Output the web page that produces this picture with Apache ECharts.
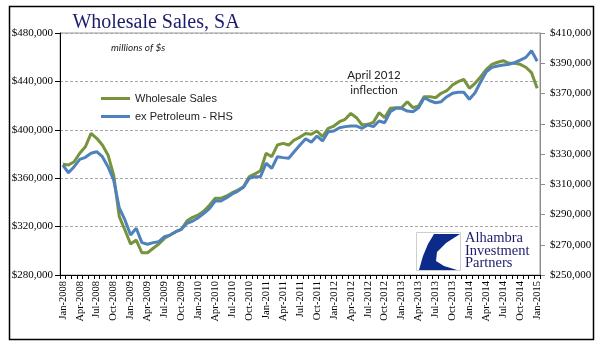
<!DOCTYPE html>
<html>
<head>
<meta charset="utf-8">
<script src="https://cdn.jsdelivr.net/npm/echarts@6/dist/echarts.min.js"></script>
<style>
html,body{margin:0;padding:0;background:#fff;}
#chart{width:596px;height:358px;}
</style>
</head>
<body>
<div id="chart"></div>
<script>
var months = [
"Jan-2008","Feb-2008","Mar-2008","Apr-2008","May-2008","Jun-2008","Jul-2008","Aug-2008","Sep-2008","Oct-2008","Nov-2008","Dec-2008",
"Jan-2009","Feb-2009","Mar-2009","Apr-2009","May-2009","Jun-2009","Jul-2009","Aug-2009","Sep-2009","Oct-2009","Nov-2009","Dec-2009",
"Jan-2010","Feb-2010","Mar-2010","Apr-2010","May-2010","Jun-2010","Jul-2010","Aug-2010","Sep-2010","Oct-2010","Nov-2010","Dec-2010",
"Jan-2011","Feb-2011","Mar-2011","Apr-2011","May-2011","Jun-2011","Jul-2011","Aug-2011","Sep-2011","Oct-2011","Nov-2011","Dec-2011",
"Jan-2012","Feb-2012","Mar-2012","Apr-2012","May-2012","Jun-2012","Jul-2012","Aug-2012","Sep-2012","Oct-2012","Nov-2012","Dec-2012",
"Jan-2013","Feb-2013","Mar-2013","Apr-2013","May-2013","Jun-2013","Jul-2013","Aug-2013","Sep-2013","Oct-2013","Nov-2013","Dec-2013",
"Jan-2014","Feb-2014","Mar-2014","Apr-2014","May-2014","Jun-2014","Jul-2014","Aug-2014","Sep-2014","Oct-2014","Nov-2014","Dec-2014",
"Jan-2015"
];

// Wholesale Sales (left axis), millions of $
var wholesaleSales = [
371500,370900,373600,380600,386000,397100,393000,387400,379200,362600,328200,317200,
305600,308900,298400,298400,302100,305600,310300,313100,315800,317800,324800,327700,
329600,332900,337900,343400,343400,345300,348000,350200,353000,361200,363500,366200,
380600,377800,387400,388800,387400,391600,394000,396900,396300,399000,394300,401200,
403100,406700,408700,413600,410000,404000,404500,406200,414100,410000,417800,418300,
418300,423200,418300,419700,427400,427400,426500,430200,432300,437000,439800,441700,
434300,438400,443900,450000,454100,455800,457100,455000,455000,454100,451700,447200,
434300
];

// ex Petroleum (right axis), millions of $
var exPetroleum = [
322700,317600,321600,326500,327800,330500,331500,328200,321600,312800,294300,286400,
276400,280900,271400,270300,271400,272000,275300,276400,278600,280200,284200,285700,
287900,290800,294100,299100,298900,301100,303600,305500,308000,313900,315000,315000,
323900,320500,328200,327600,327200,331700,336000,340100,337700,341900,338600,344700,
345200,347400,348100,348500,348500,347000,349200,348100,351800,350700,358000,360200,
360200,358400,358000,360500,367200,365200,363900,364600,367900,370100,370800,370800,
366200,370500,377800,384400,387300,388200,388800,389300,390400,392100,393900,398300,
391300
];

var seriesNames = ["Wholesale Sales", "ex Petroleum - RHS"];
var leftTicks = {min: 280000, max: 480000, interval: 40000};
var rightTicks = {min: 250000, max: 410000, interval: 20000};

function money(v){ return '$' + Math.round(v).toString().replace(/\B(?=(\d{3})+(?!\d))/g, ','); }

var chart = echarts.init(document.getElementById('chart'), null, {renderer:'canvas'});
var serif = '"Liberation Serif","Times New Roman",serif';
var option = {
  animation: false,
  backgroundColor: '#ffffff',
  grid: {left: 60, right: 56, top: 33, bottom: 83, show: true, borderColor: '#9a9a9a', borderWidth: 1},
  legend: {
    orient: 'vertical', left: 96, top: 88, itemGap: 7,
    itemWidth: 29, itemHeight: 3, icon: 'rect',
    textStyle: {fontFamily: '"Liberation Sans",Arial,sans-serif', fontSize: 11, color: '#222'},
    data: seriesNames
  },
  xAxis: {
    type: 'category', data: months, boundaryGap: true,
    axisLine: {show: true, lineStyle: {color: '#000', width: 1}},
    axisTick: {show: true, interval: 0, length: 4, inside: false, lineStyle: {color: '#000'}},
    axisLabel: {interval: 2, rotate: 90, margin: 6, fontFamily: serif, fontSize: 10.5, color: '#000'},
    splitLine: {show: false}
  },
  yAxis: [
    {
      type: 'value', min: leftTicks.min, max: leftTicks.max, interval: leftTicks.interval, position: 'left',
      axisLine: {show: true, lineStyle: {color: '#000', width: 1}},
      axisTick: {show: true, length: 5, lineStyle: {color: '#000'}},
      axisLabel: {formatter: money, margin: 7, fontFamily: serif, fontSize: 11, color: '#000'},
      splitLine: {show: true, lineStyle: {color: '#a6a6a6', type: [3, 2], width: 1}}
    },
    {
      type: 'value', min: rightTicks.min, max: rightTicks.max, interval: rightTicks.interval, position: 'right',
      axisLine: {show: true, lineStyle: {color: '#8c8c8c', width: 1}},
      axisTick: {show: true, length: 5, lineStyle: {color: '#8c8c8c'}},
      axisLabel: {formatter: money, margin: 10, fontFamily: serif, fontSize: 11, color: '#000'},
      splitLine: {show: false}
    }
  ],
  series: [
    {name: seriesNames[0], type: 'line', yAxisIndex: 0, data: wholesaleSales, showSymbol: false, symbol: 'none',
     lineStyle: {color: '#77933C', width: 3}, itemStyle: {color: '#77933C'}, z: 2},
    {name: seriesNames[1], type: 'line', yAxisIndex: 1, data: exPetroleum, showSymbol: false, symbol: 'none',
     lineStyle: {color: '#4F81BD', width: 3}, itemStyle: {color: '#4F81BD'}, z: 3}
  ],
  graphic: [
    {type: 'rect', shape: {x: 9.5, y: 6.5, width: 584, height: 333}, style: {fill: 'none', stroke: '#000', lineWidth: 1.5}, z: 100, silent: true},
    {type: 'text', x: 156, y: 23, style: {text: 'Wholesale Sales, SA', fill: '#1c1c6b', font: '20px "Liberation Serif","Times New Roman",serif', textAlign: 'center', textVerticalAlign: 'middle'}, z: 100},
    {type: 'text', x: 111, y: 48, style: {text: 'millions of $s', fill: '#222', font: 'italic 10px Lato,"Open Sans",sans-serif', textAlign: 'left', textVerticalAlign: 'middle'}, z: 100},
    {type: 'text', x: 374, y: 75, style: {text: 'April 2012', fill: '#222', font: '11.5px Lato,"Open Sans",sans-serif', textAlign: 'center', textVerticalAlign: 'middle'}, z: 100},
    {type: 'text', x: 374, y: 90, style: {text: 'inflection', fill: '#222', font: '11.5px Lato,"Open Sans",sans-serif', textAlign: 'center', textVerticalAlign: 'middle'}, z: 100},
    {type: 'rect', shape: {x: 416.5, y: 232.5, width: 44, height: 38}, style: {fill: '#fff', stroke: '#cfcfcf', lineWidth: 1}, z: 100},
    {type: 'polygon', shape: {points: [[434,234],[460,234],[446,243],[437,252],[436,261],[444,266],[457,270],[419,270],[423,256],[428,244]]}, style: {fill: '#0b2a8a'}, z: 101},
    {type: 'text', x: 465, y: 238, style: {text: 'Alhambra', fill: '#1c1c6b', font: '14.5px "Liberation Serif","Times New Roman",serif', textAlign: 'left', textVerticalAlign: 'middle'}, z: 101},
    {type: 'text', x: 465, y: 251, style: {text: 'Investment', fill: '#1c1c6b', font: '14.5px "Liberation Serif","Times New Roman",serif', textAlign: 'left', textVerticalAlign: 'middle'}, z: 101},
    {type: 'text', x: 465, y: 263, style: {text: 'Partners', fill: '#1c1c6b', font: '14.5px "Liberation Serif","Times New Roman",serif', textAlign: 'left', textVerticalAlign: 'middle'}, z: 101}
  ]
};
chart.setOption(option);
</script>
</body>
</html>
